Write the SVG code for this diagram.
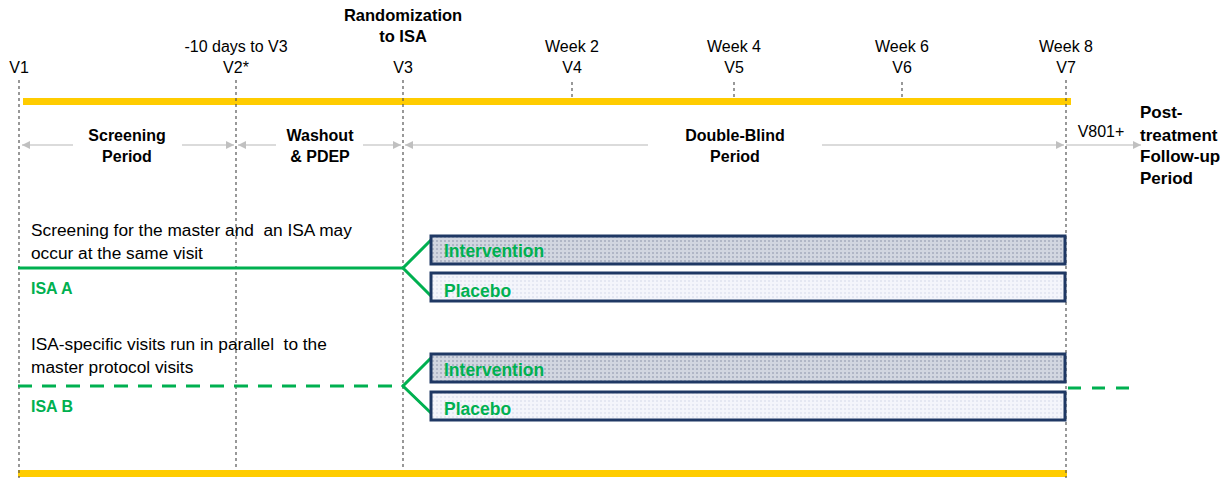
<svg xmlns="http://www.w3.org/2000/svg" width="1232" height="478" viewBox="0 0 1232 478">
<style>
.t{font-family:"Liberation Sans",Arial,sans-serif;font-size:16px;fill:#000}
.b{font-weight:bold}
.c{text-anchor:middle}
.s{font-size:17.3px}
.p{font-size:17px}
.g{fill:#00b050;font-weight:bold}
.gi{font-size:17.5px}
.vl{stroke:#555;stroke-width:1.2;stroke-dasharray:3,3;fill:none}
.ar{stroke:#cfcfcf;stroke-width:1.5;fill:none}
.yb{stroke:#ffcc00;stroke-width:7;fill:none}
.gl{stroke:#00b050;stroke-width:3;fill:none}
.bx{stroke:#1f3864;stroke-width:3}
</style>
<defs>
<pattern id="pI" width="4" height="4" patternUnits="userSpaceOnUse">
<rect width="4" height="4" fill="#d2d6e0"/>
<rect width="2" height="2" fill="#b0b6c6"/>
</pattern>
<pattern id="pP" width="4" height="4" patternUnits="userSpaceOnUse">
<rect width="4" height="4" fill="#f4f5fb"/>
<rect width="2" height="2" fill="#e4e7f2"/>
</pattern>
<marker id="ah" viewBox="0 0 10 10" refX="10" refY="5" markerWidth="8" markerHeight="8" orient="auto-start-reverse" markerUnits="userSpaceOnUse">
<path d="M0,0 L10,5 L0,10 z" fill="#c0c0c0"/>
</marker>
</defs>
<g id="timeline">
<line class="yb" x1="23" y1="101.5" x2="1071" y2="101.5"/>
<line class="yb" x1="18" y1="473.5" x2="1067" y2="473.5"/>
<line class="vl" x1="19" y1="80" x2="19" y2="478"/>
<line class="vl" x1="236" y1="80" x2="236" y2="470"/>
<line class="vl" x1="403" y1="80" x2="403" y2="470"/>
<line class="vl" x1="1066" y1="80" x2="1066" y2="478"/>
<line class="vl" x1="572" y1="82" x2="572" y2="98"/>
<line class="vl" x1="734" y1="82" x2="734" y2="98"/>
<line class="vl" x1="902" y1="82" x2="902" y2="98"/>
</g>
<g id="labels">
<text class="t b c" x="403" y="21" style="font-size:16.5px">Randomization</text>
<text class="t b c" x="403" y="42" style="font-size:16.5px">to ISA</text>
<text class="t c" x="236" y="52">-10 days to V3</text>
<text class="t c" x="572" y="52">Week 2</text>
<text class="t c" x="734" y="52">Week 4</text>
<text class="t c" x="902" y="52">Week 6</text>
<text class="t c" x="1066" y="52">Week 8</text>
<text class="t c" x="19" y="73">V1</text>
<text class="t c" x="236" y="73">V2*</text>
<text class="t c" x="403" y="73">V3</text>
<text class="t c" x="572" y="73">V4</text>
<text class="t c" x="734" y="73">V5</text>
<text class="t c" x="902" y="73">V6</text>
<text class="t c" x="1066" y="73">V7</text>
</g>
<g id="connectors">
<line class="ar" x1="73" y1="145" x2="22" y2="145" marker-end="url(#ah)"/>
<line class="ar" x1="182" y1="145" x2="234" y2="145" marker-end="url(#ah)"/>
<line class="ar" x1="276" y1="145" x2="238" y2="145" marker-end="url(#ah)"/>
<line class="ar" x1="363" y1="145" x2="401" y2="145" marker-end="url(#ah)"/>
<line class="ar" x1="648" y1="145" x2="405" y2="145" marker-end="url(#ah)"/>
<line class="ar" x1="822" y1="145" x2="1064" y2="145" marker-end="url(#ah)"/>
<line class="ar" x1="1066" y1="145" x2="1141" y2="145" marker-end="url(#ah)"/>
<polyline class="gl" points="18,268 403,268"/>
<polyline class="gl" points="431,240 403,268 431,296"/>
<line class="gl" x1="18" y1="386" x2="403" y2="386" stroke-dasharray="14,10"/>
<polyline class="gl" points="431,358 403,386 431,413"/>
<line class="gl" x1="1068" y1="388" x2="1130" y2="388" stroke-dasharray="13,11"/>
</g>
<g id="periods">
<text class="t b c" x="127" y="141">Screening</text>
<text class="t b c" x="127" y="162">Period</text>
<text class="t b c" x="320" y="141">Washout</text>
<text class="t b c" x="320" y="162">&amp; PDEP</text>
<text class="t b c" x="735" y="141">Double-Blind</text>
<text class="t b c" x="735" y="162">Period</text>
<text class="t c" x="1101" y="137">V801+</text>
<text class="t b p" x="1140" y="118">Post-</text>
<text class="t b p" x="1140" y="141">treatment</text>
<text class="t b p" x="1140" y="162">Follow-up</text>
<text class="t b p" x="1140" y="184">Period</text>
</g>
<g id="isaA">
<text class="t s" x="31" y="236" xml:space="preserve">Screening for the master and  an ISA may</text>
<text class="t s" x="31" y="259">occur at the same visit</text>
<text class="t g" x="31" y="294">ISA A</text>
<rect class="bx" x="431" y="236" width="634" height="28" fill="url(#pI)"/>
<text class="t g gi" x="444" y="257">Intervention</text>
<rect class="bx" x="431" y="273" width="634" height="28" fill="url(#pP)"/>
<text class="t g gi" x="444" y="297">Placebo</text>
</g>
<g id="isaB">
<text class="t s" x="31" y="350" xml:space="preserve">ISA-specific visits run in parallel  to the</text>
<text class="t s" x="31" y="373">master protocol visits</text>
<text class="t g" x="31" y="412">ISA B</text>
<rect class="bx" x="431" y="354" width="634" height="28" fill="url(#pI)"/>
<text class="t g gi" x="444" y="376">Intervention</text>
<rect class="bx" x="431" y="392" width="634" height="28" fill="url(#pP)"/>
<text class="t g gi" x="444" y="415">Placebo</text>
</g>
</svg>
